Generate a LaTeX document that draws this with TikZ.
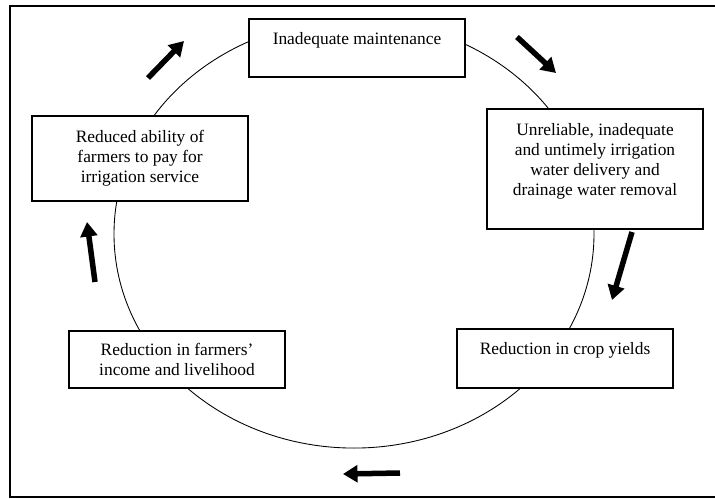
\documentclass[tikz,border=0pt]{standalone}
\usepackage{fontspec}
\setmainfont{Liberation Serif}
\usetikzlibrary{arrows.meta}

\tikzset{
  stage/.style={draw,line width=0.8pt,fill=white,align=center,minimum width=149pt,inner sep=2pt},
  cyclearrow/.style={line width=3.8pt,-{Triangle[length=10pt,width=11.5pt]}}
}

\begin{document}
\begin{tikzpicture}[x=0.69pt,y=-0.69pt,font=\fontsize{12}{13.8}\selectfont,line cap=butt]
\useasboundingbox (0,0) rectangle (715,498);
\draw[line width=1.4pt] (720,6) -- (10,6) -- (10,497) -- (720,497);
\draw[line width=0.6pt] (354,234) ellipse[x radius=165.6pt,y radius=147.7pt];
\node[stage,minimum height=40pt] (maint) at (357,48) {Inadequate maintenance\\ \mbox{}};
\node[stage,minimum height=82.8pt] (delivery) at (595,169) {Unreliable, inadequate\\ and untimely irrigation\\ water delivery and\\ drainage water removal\\ \mbox{}};
\node[stage,minimum height=40.7pt] (yields) at (565,358.5) {Reduction in crop yields\\ \mbox{}};
\node[stage,minimum height=39.3pt] (income) at (177,359.5) {Reduction in farmers'\\ income and livelihood};
\node[stage,minimum height=58.7pt] (ability) at (140,158.5) {Reduced ability of\\ farmers to pay for\\ irrigation service};
\coordinate (a1s) at (517,37);  \coordinate (a1e) at (556,73);
\coordinate (a2s) at (632,232); \coordinate (a2e) at (612,300);
\coordinate (a3s) at (400,473); \coordinate (a3e) at (343,474);
\coordinate (a4s) at (95,282);  \coordinate (a4e) at (87,222);
\coordinate (a5s) at (148,78);  \coordinate (a5e) at (184,41);
\draw[cyclearrow] (a1s) -- (a1e);
\draw[cyclearrow] (a2s) -- (a2e);
\draw[cyclearrow] (a3s) -- (a3e);
\draw[cyclearrow] (a4s) -- (a4e);
\draw[cyclearrow] (a5s) -- (a5e);
\end{tikzpicture}
\end{document}
